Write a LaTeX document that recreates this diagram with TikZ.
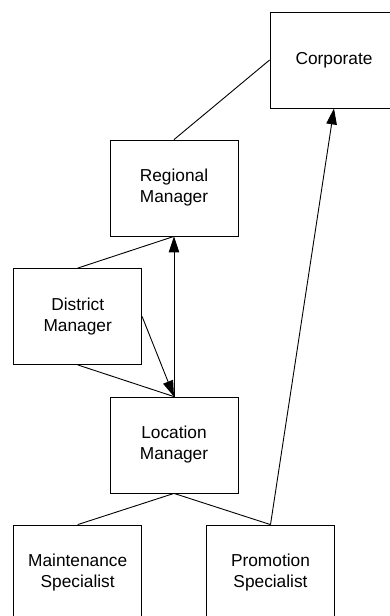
\documentclass[tikz,border=0pt]{standalone}
\usepackage{fontspec}
\setmainfont{Liberation Sans}
\usetikzlibrary{arrows.meta}
\begin{document}
\begin{tikzpicture}[x=1pt,y=-1pt,
  role/.style={draw=black, line width=0.8pt, minimum width=128pt, minimum height=96pt,
    inner sep=0pt, align=center, font=\fontsize{17.3}{21}\selectfont},
  link/.style={draw=black, line width=0.9pt},
  tip/.style={link, -{Triangle[length=16pt,width=10.5pt]}}]
  \clip (0,0) rectangle (390,616);
  \fill[white] (0,0) rectangle (390,616);

  % org chart boxes
  \node[role] (corp) at (334,60)   {Corporate};
  \node[role] (reg)  at (174,188)  {Regional\\Manager};
  \node[role] (dist) at (77.7,316.5) {District\\Manager};
  \node[role] (loc)  at (174,445)  {Location\\Manager};
  \node[role] (mnt)  at (77.7,573) {Maintenance\\Specialist};
  \node[role] (prom) at (270.5,573) {Promotion\\Specialist};

  % reporting lines
  \draw[link] (corp.west) -- (reg.north);
  \draw[link] (reg.south) -- (dist.north);
  \draw[link] (dist.south) -- (loc.north);
  \draw[link] (loc.south) -- (mnt.north);
  \draw[link] (loc.south) -- (prom.north);

  % directed links
  \draw[tip] (dist.east) -- (loc.north);
  \draw[tip] (loc.north) -- (reg.south);
  \draw[tip] (prom.north) -- (corp.south);
\end{tikzpicture}
\end{document}
